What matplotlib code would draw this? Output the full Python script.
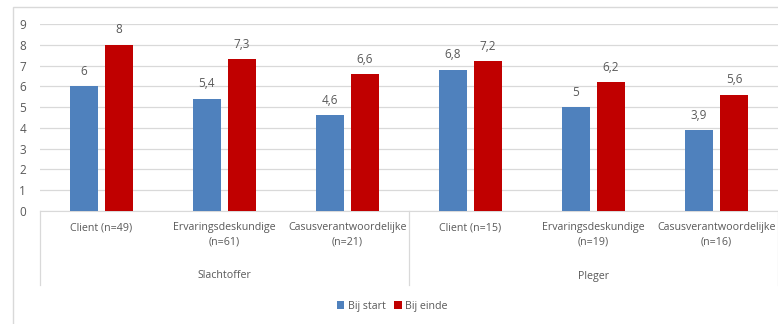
import matplotlib
matplotlib.use("Agg")
import matplotlib.pyplot as plt
from matplotlib.patches import Rectangle
import matplotlib.transforms as mtransforms

categories = ["Client (n=49)", "Ervaringsdeskundige\n(n=61)", "Casusverantwoordelijke\n(n=21)",
              "Client (n=15)", "Ervaringsdeskundige\n(n=19)", "Casusverantwoordelijke\n(n=16)"]
groups = ["Slachtoffer", "Pleger"]
bij_start = [6, 5.4, 4.6, 6.8, 5, 3.9]
bij_einde = [8, 7.3, 6.6, 7.2, 6.2, 5.6]
series_names = ["Bij start", "Bij einde"]
yticks = list(range(0, 10))

plt.rcParams['font.family'] = ['Open Sans', 'DejaVu Sans']
text_color = "#595959"
blue = "#4F81BD"
red = "#C00000"

fig = plt.figure(figsize=(7.78, 3.24), dpi=100)
fig.patches.append(Rectangle((13/778, -0.2), 1.2, 1 - 7/324 + 0.2, transform=fig.transFigure,
                             fill=False, edgecolor="#D9D9D9", linewidth=1.0))
ax = fig.add_axes([40/778, 1 - 211/324, 1 - 40/778, (211 - 24)/324])

x = list(range(len(categories)))
off = 0.143
w = 0.228
b1 = ax.bar([i - off for i in x], bij_start, width=w, color=blue, label=series_names[0], zorder=3)
b2 = ax.bar([i + off for i in x], bij_einde, width=w, color=red, label=series_names[1], zorder=3)

def fmt(v):
    s = ("%g" % v).replace(".", ",")
    return s
for bars, vals in ((b1, bij_start), (b2, bij_einde)):
    for r, v in zip(bars, vals):
        ax.annotate(fmt(v), (r.get_x() + r.get_width()/2, v), xytext=(0, 6),
                    textcoords="offset points", ha="center", va="bottom",
                    fontsize=8.5, color=text_color)

ax.set_xlim(-0.5, 5.5)
ax.set_ylim(0, 9)
ax.set_yticks(yticks)
ax.yaxis.grid(True, color="#D9D9D9", linewidth=0.9, zorder=0)
ax.set_axisbelow(True)
for s in ["top", "right", "left"]:
    ax.spines[s].set_visible(False)
ax.spines["bottom"].set_color("#D9D9D9")
ax.tick_params(axis="y", length=0, labelsize=8.5, labelcolor=text_color, pad=10)
ax.set_xticks([])

trans = mtransforms.blended_transform_factory(ax.transData, ax.transAxes)
for i, c in enumerate(categories):
    ax.text(i, -11/187, c, transform=trans, ha="center", va="top", fontsize=7.7,
            color=text_color, linespacing=1.5)
for gi, g in enumerate(groups):
    ax.text(1 + 3*gi, -65/187, g, transform=trans, ha="center", va="center",
            fontsize=7.7, color=text_color)
for xv in (-0.5, 2.5, 5.5):
    ax.plot([xv, xv], [0, -74/187], transform=trans, color="#D9D9D9", linewidth=0.9,
            clip_on=False)

fig.legend(handles=[b1, b2], labels=series_names, loc="center", bbox_to_anchor=(0.504, 1 - 306/324),
           ncol=2, frameon=False, fontsize=7.7, handlelength=0.7, handleheight=0.7,
           handletextpad=0.3, columnspacing=0.8, labelcolor=text_color)

fig.savefig("out.png", dpi=100)
